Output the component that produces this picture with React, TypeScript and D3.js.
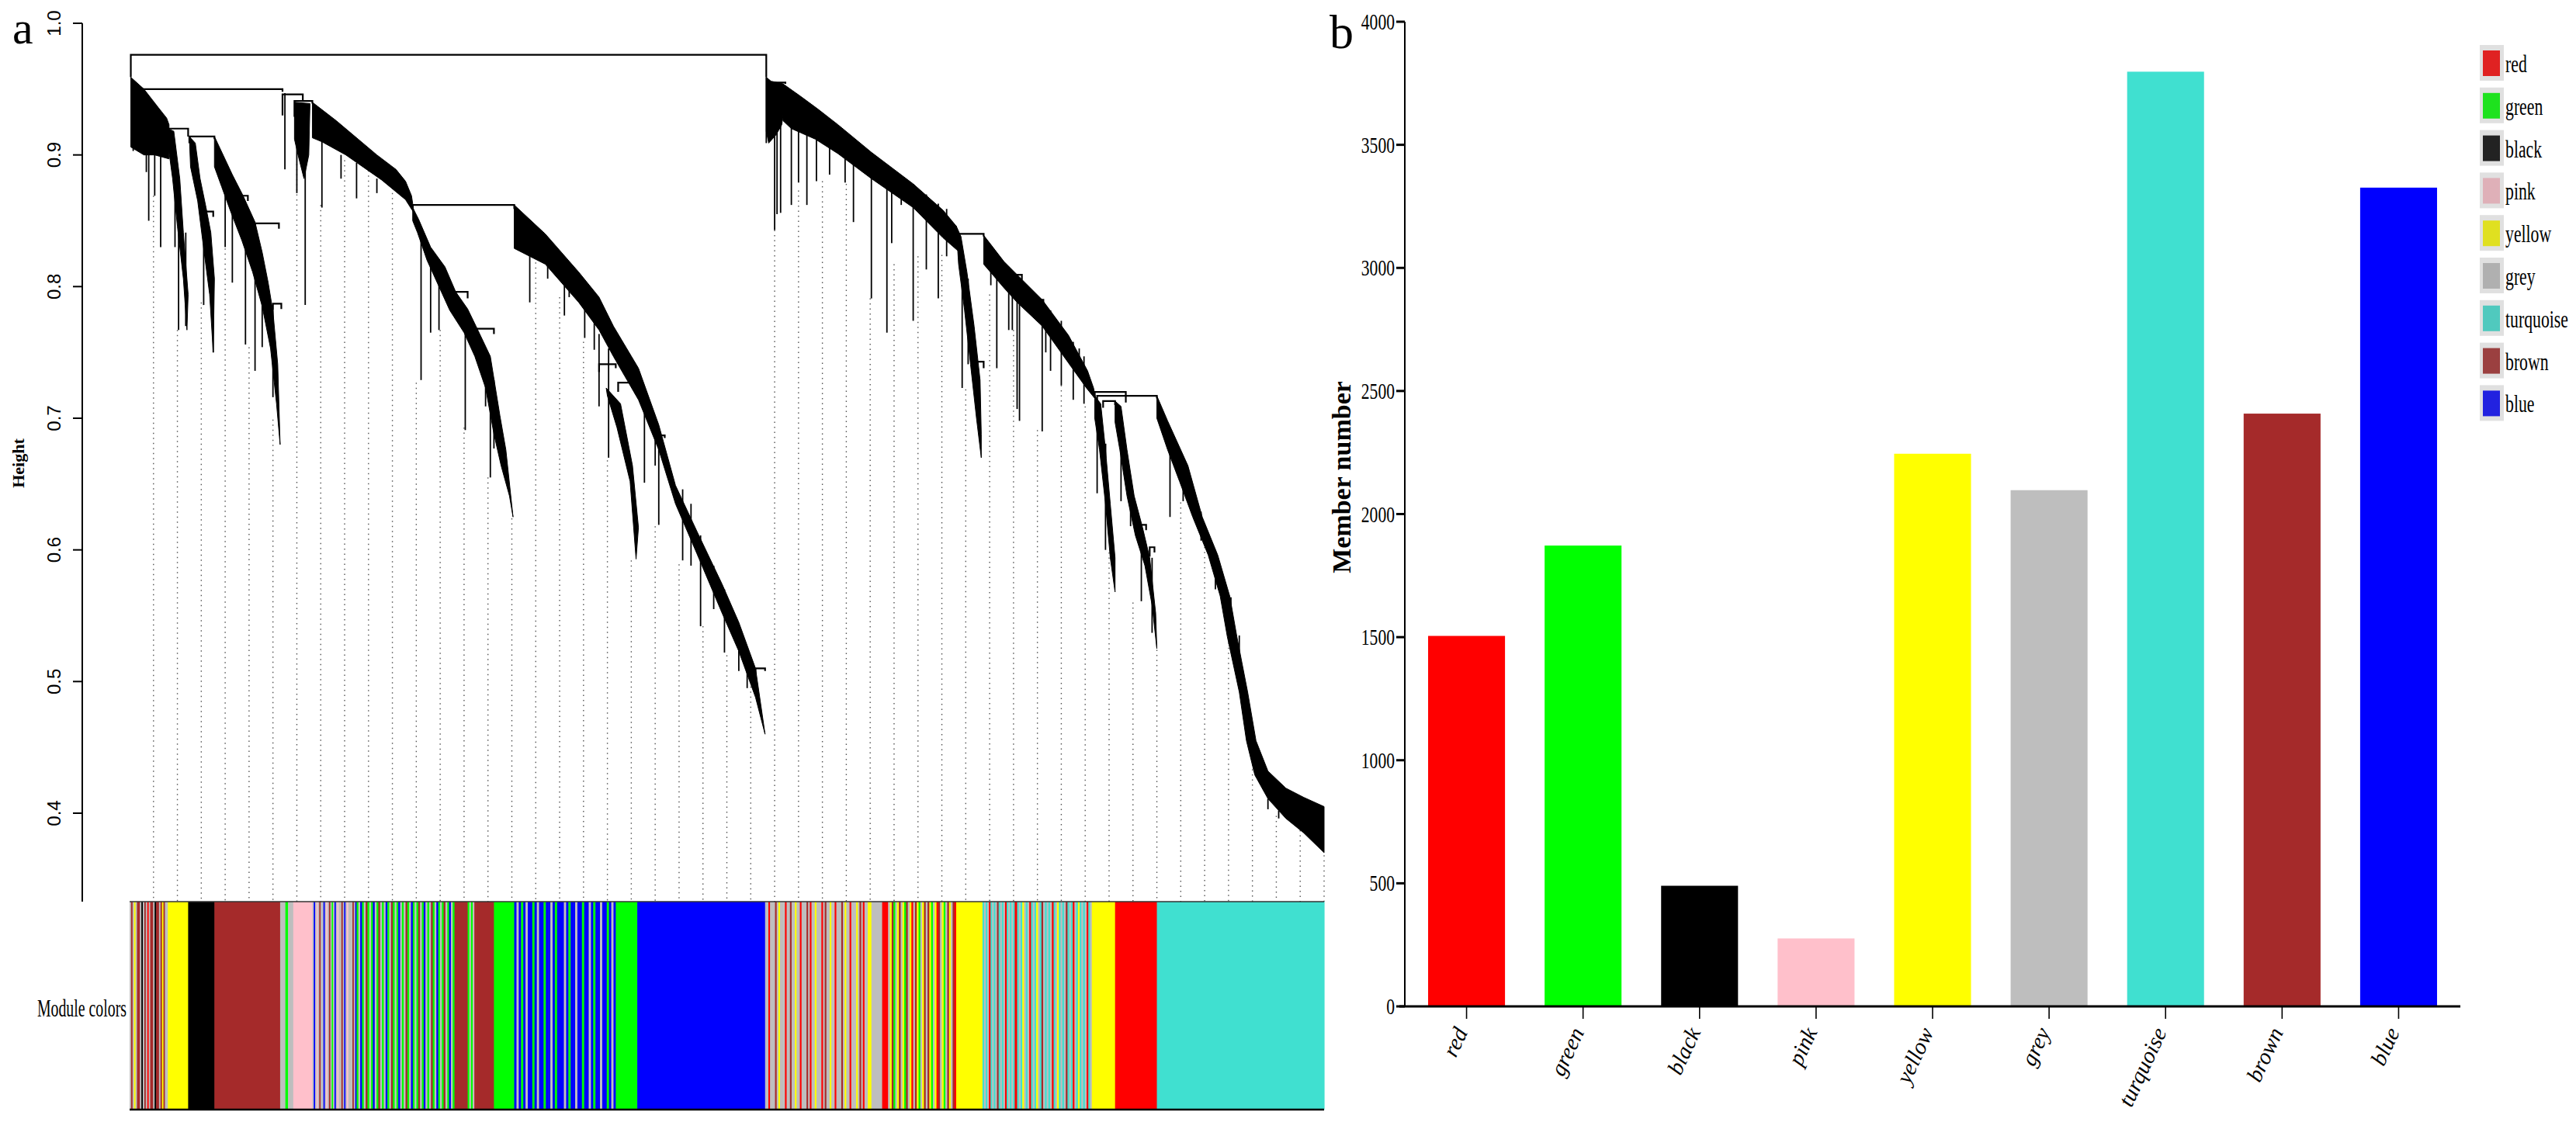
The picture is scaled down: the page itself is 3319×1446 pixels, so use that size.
import React from "react";
import * as d3 from "d3";

const W = 3319;
const H = 1446;

// ---- panel b: module sizes ----
const MODULES = ["red", "green", "black", "pink", "yellow", "grey", "turquoise", "brown", "blue"];
const MEMBERS = [1505, 1872, 490, 276, 2245, 2097, 3797, 2408, 3326];
const BAR_COLORS = ["#FF0000", "#00FF00", "#000000", "#FFC0CB", "#FFFF00", "#BEBEBE", "#40E0D0", "#A52A2A", "#0000FF"];
const LEGEND_COLORS = ["#E02222", "#1EE21E", "#222222", "#DFB0B8", "#E0E020", "#B0B0B0", "#50C9BE", "#9B4040", "#2222E0"];
const MEMBER_TICKS = [0, 500, 1000, 1500, 2000, 2500, 3000, 3500, 4000];

// ---- panel a: gene dendrogram (x = leaf order, % of genes; y = height) ----
const HEIGHT_TICKS = [0.4, 0.5, 0.6, 0.7, 0.8, 0.9, 1.0];

// [left x, right x, merge height, left child top, right child top]
const MERGES = [
  [0.1, 53.3, 0.976, 0.959, 0.959],
  [0.8, 12.8, 0.95, 0.947, 0.948],
  [3.2, 4.9, 0.92, 0.918, 0.914],
  [5.0, 7.1, 0.914, 0.909, 0.912],
  [9.0, 9.9, 0.869, 0.862, 0.865],
  [10.5, 12.5, 0.848, 0.841, 0.844],
  [12.0, 12.7, 0.787, 0.782, 0.783],
  [6.1, 7.0, 0.857, 0.85, 0.853],
  [12.8, 14.5, 0.946, 0.93, 0.941],
  [13.8, 15.3, 0.941, 0.929, 0.939],
  [23.7, 32.2, 0.862, 0.86, 0.859],
  [27.3, 28.3, 0.796, 0.788, 0.791],
  [29.1, 30.5, 0.768, 0.761, 0.764],
  [39.3, 40.7, 0.741, 0.735, 0.738],
  [40.9, 42.6, 0.727, 0.72, 0.723],
  [44.3, 44.8, 0.687, 0.682, 0.685],
  [52.4, 53.2, 0.51, 0.505, 0.508],
  [53.6, 54.9, 0.955, 0.95, 0.954],
  [69.4, 71.5, 0.84, 0.835, 0.838],
  [70.9, 71.5, 0.743, 0.735, 0.738],
  [74.2, 74.7, 0.809, 0.8, 0.805],
  [76.1, 76.5, 0.79, 0.782, 0.786],
  [80.8, 83.4, 0.72, 0.716, 0.712],
  [81.0, 86.0, 0.717, 0.713, 0.715],
  [81.5, 82.5, 0.713, 0.708, 0.71],
  [81.5, 81.7, 0.68, 0.66, 0.67],
  [84.7, 85.1, 0.619, 0.612, 0.615],
  [85.4, 85.8, 0.602, 0.595, 0.598],
];

// dense branch bundles, outlined as polygons
const RIBBONS: [number, number][][] = [
  [[0.1, 0.959], [1.2, 0.95], [2.4, 0.936], [3.1, 0.928], [3.3, 0.923], [3.3, 0.897], [2.1, 0.9], [1.2, 0.9], [0.1, 0.906]],
  [[3.2, 0.92], [3.7, 0.918], [4.2, 0.882], [4.5, 0.841], [4.9, 0.794], [4.8, 0.767], [4.5, 0.806], [4.0, 0.846], [3.6, 0.882], [3.2, 0.909]],
  [[5.0, 0.914], [5.5, 0.909], [5.9, 0.882], [6.4, 0.86], [6.8, 0.841], [7.1, 0.806], [7.0, 0.75], [6.7, 0.794], [6.2, 0.829], [5.7, 0.865], [5.1, 0.891]],
  [[7.1, 0.914], [8.6, 0.885], [9.5, 0.869], [10.5, 0.849], [11.1, 0.826], [11.6, 0.803], [12.0, 0.781], [12.4, 0.741], [12.6, 0.68], [12.3, 0.711], [11.8, 0.753], [11.1, 0.785], [10.3, 0.811], [9.4, 0.835], [8.5, 0.856], [7.7, 0.876], [7.1, 0.891]],
  [[13.8, 0.94], [15.1, 0.939], [15.0, 0.9], [14.6, 0.882], [14.1, 0.9], [13.8, 0.912]],
  [[15.3, 0.94], [17.3, 0.926], [20.7, 0.9], [22.3, 0.889], [23.1, 0.88], [23.6, 0.869], [23.7, 0.863], [23.8, 0.856], [23.1, 0.866], [21.1, 0.881], [18.1, 0.9], [16.1, 0.91], [15.3, 0.913]],
  [[23.7, 0.86], [24.2, 0.851], [25.2, 0.83], [26.4, 0.815], [27.3, 0.796], [28.3, 0.783], [29.1, 0.768], [30.2, 0.747], [31.0, 0.702], [31.5, 0.676], [32.1, 0.625], [31.8, 0.641], [31.1, 0.664], [30.5, 0.688], [29.8, 0.723], [28.9, 0.747], [28.0, 0.765], [26.8, 0.782], [25.9, 0.8], [24.9, 0.82], [24.1, 0.841], [23.7, 0.85]],
  [[32.2, 0.862], [34.8, 0.84], [37.6, 0.811], [39.3, 0.792], [40.5, 0.77], [42.6, 0.738], [44.3, 0.695], [45.7, 0.649], [47.5, 0.614], [49.6, 0.574], [51.0, 0.545], [52.4, 0.51], [53.2, 0.46], [52.4, 0.488], [51.0, 0.523], [49.6, 0.552], [47.5, 0.597], [45.7, 0.635], [44.3, 0.676], [42.6, 0.714], [40.5, 0.747], [39.3, 0.767], [37.6, 0.788], [34.8, 0.817], [32.2, 0.829]],
  [[39.9, 0.723], [41.1, 0.711], [42.1, 0.664], [42.6, 0.617], [42.4, 0.593], [41.9, 0.652], [40.8, 0.693], [40.0, 0.717]],
  [[53.3, 0.959], [53.7, 0.956], [54.7, 0.954], [54.9, 0.944], [54.6, 0.923], [54.1, 0.915], [53.5, 0.909], [53.3, 0.918]],
  [[54.7, 0.954], [56.1, 0.945], [57.6, 0.935], [59.3, 0.923], [62.1, 0.902], [65.6, 0.878], [68.1, 0.858], [69.2, 0.846], [69.4, 0.84], [69.5, 0.826], [68.1, 0.837], [65.6, 0.86], [62.1, 0.882], [59.3, 0.901], [57.4, 0.912], [55.4, 0.92], [54.7, 0.926]],
  [[69.2, 0.846], [69.6, 0.838], [70.1, 0.811], [70.7, 0.77], [71.2, 0.729], [71.3, 0.688], [71.3, 0.67], [70.9, 0.7], [70.4, 0.741], [69.9, 0.782], [69.4, 0.817]],
  [[71.5, 0.839], [73.2, 0.819], [74.3, 0.809], [76.4, 0.79], [78.6, 0.763], [80.2, 0.736], [80.7, 0.723], [80.9, 0.714], [80.1, 0.723], [78.6, 0.742], [76.4, 0.77], [74.3, 0.788], [73.2, 0.799], [71.5, 0.817]],
  [[80.8, 0.717], [81.3, 0.711], [81.7, 0.676], [82.1, 0.635], [82.5, 0.594], [82.5, 0.568], [82.1, 0.594], [81.7, 0.635], [81.2, 0.676], [80.8, 0.7]],
  [[82.5, 0.713], [83.0, 0.709], [83.5, 0.676], [84.1, 0.641], [84.8, 0.617], [85.4, 0.594], [85.9, 0.552], [86.0, 0.525], [85.6, 0.558], [85.0, 0.588], [84.2, 0.611], [83.5, 0.641], [82.9, 0.676], [82.5, 0.697]],
  [[86.0, 0.717], [86.9, 0.698], [88.6, 0.664], [89.8, 0.625], [91.1, 0.596], [92.1, 0.565], [92.7, 0.534], [93.6, 0.492], [94.3, 0.455], [95.3, 0.432], [96.8, 0.419], [98.3, 0.412], [100, 0.405], [100, 0.37], [98.3, 0.385], [96.8, 0.396], [95.3, 0.411], [94.2, 0.429], [93.5, 0.455], [92.9, 0.492], [91.9, 0.534], [91.3, 0.565], [90.3, 0.596], [89.0, 0.625], [87.9, 0.652], [86.9, 0.676], [86.0, 0.7]],
];

// single long branches hanging below the bundles: [x, top, bottom]
const SPIKES = [
  [0.3, 0.929, 0.903], [1.6, 0.912, 0.85], [2.1, 0.909, 0.869], [2.6, 0.906, 0.83], [1.4, 0.912, 0.887],
  [3.8, 0.9, 0.83], [4.1, 0.876, 0.767], [4.7, 0.841, 0.77], [6.2, 0.841, 0.786], [7.0, 0.794, 0.75],
  [8.0, 0.876, 0.83], [8.6, 0.865, 0.803], [9.7, 0.846, 0.756], [10.5, 0.835, 0.736], [11.1, 0.817, 0.754],
  [12.0, 0.782, 0.716], [13.0, 0.947, 0.889], [14.7, 0.938, 0.786], [14.0, 0.938, 0.871], [16.1, 0.912, 0.86],
  [17.7, 0.9, 0.882], [19.0, 0.894, 0.867], [20.7, 0.882, 0.871], [24.4, 0.841, 0.729], [25.2, 0.823, 0.765],
  [25.9, 0.811, 0.767], [28.1, 0.782, 0.691], [29.8, 0.753, 0.709], [30.5, 0.729, 0.677], [30.2, 0.741, 0.655],
  [33.5, 0.846, 0.788], [35.0, 0.829, 0.806], [36.4, 0.815, 0.778], [36.8, 0.811, 0.792], [38.1, 0.794, 0.761],
  [38.9, 0.782, 0.752], [39.3, 0.764, 0.709], [40.1, 0.753, 0.67], [43.1, 0.723, 0.651], [44.0, 0.7, 0.664],
  [44.3, 0.688, 0.619], [46.3, 0.646, 0.592], [47.0, 0.635, 0.588], [47.8, 0.611, 0.542], [48.9, 0.588, 0.555],
  [49.8, 0.57, 0.522], [51.0, 0.541, 0.508], [51.7, 0.517, 0.495],
  [53.3, 0.959, 0.909], [54.0, 0.947, 0.843], [54.2, 0.947, 0.855], [54.5, 0.947, 0.856], [55.4, 0.941, 0.862],
  [56.0, 0.935, 0.879], [56.7, 0.929, 0.862], [57.5, 0.923, 0.88], [58.6, 0.918, 0.885], [59.9, 0.909, 0.879],
  [60.6, 0.903, 0.849], [62.1, 0.9, 0.791], [63.4, 0.891, 0.765], [63.8, 0.888, 0.833], [64.6, 0.882, 0.862],
  [65.6, 0.878, 0.774], [66.7, 0.87, 0.813], [67.7, 0.863, 0.791], [68.4, 0.859, 0.823], [69.7, 0.823, 0.723],
  [70.2, 0.806, 0.741], [72.1, 0.829, 0.801], [72.6, 0.823, 0.738], [73.6, 0.815, 0.767], [73.9, 0.811, 0.767],
  [74.3, 0.806, 0.707], [74.5, 0.806, 0.698], [76.4, 0.788, 0.69], [76.7, 0.785, 0.75], [77.1, 0.782, 0.736],
  [78.0, 0.774, 0.725], [79.0, 0.758, 0.714], [79.5, 0.753, 0.733], [79.9, 0.747, 0.711], [81.0, 0.694, 0.643],
  [81.7, 0.664, 0.6], [83.0, 0.688, 0.637], [83.8, 0.652, 0.618], [84.7, 0.617, 0.561], [85.6, 0.594, 0.537],
  [87.1, 0.688, 0.625], [88.2, 0.664, 0.637], [89.7, 0.629, 0.607], [90.9, 0.6, 0.57], [92.2, 0.564, 0.541],
  [92.9, 0.535, 0.516], [95.3, 0.411, 0.403], [96.2, 0.402, 0.396],
];

// height where each of the 50 guide lines starts (guides every 2% of leaves)
const GUIDE_TOPS = [
  0.869, 0.767, 0.788, 0.829, 0.754, 0.699, 0.893, 0.862, 0.896, 0.892,
  0.871, 0.727, 0.767, 0.693, 0.655, 0.624, 0.826, 0.792, 0.758, 0.668,
  0.592, 0.618, 0.589, 0.542, 0.52, 0.5, 0.843, 0.873, 0.88, 0.878,
  0.791, 0.817, 0.823, 0.824, 0.722, 0.794, 0.767, 0.691, 0.725, 0.709,
  0.598, 0.56, 0.524, 0.636, 0.606, 0.541, 0.464, 0.398, 0.387, 0.368,
];

const BAND_CODES: Record<string, string> = {
  g: "#BEBEBE", b: "#A52A2A", y: "#FFFF00", k: "#000000", p: "#FFC0CB",
  G: "#00FF00", B: "#0000FF", r: "#FF0000", t: "#40E0D0",
};

// [from %, to %, stripe sequence]
const BAND_SEGMENTS: [number, number, string][] = [
  [0, 3.2, "gbgygbbgkgbgrgbbgkbbgbybgg"],
  [3.2, 4.9, "y"],
  [4.9, 7.1, "k"],
  [7.1, 12.6, "b"],
  [12.6, 13.7, "ggGgg"],
  [13.7, 15.3, "p"],
  [15.3, 19.0, "gBgpgbggBgpgbgGgBgpggbgBgpgggbgB"],
  [19.0, 27.2, "GgBGgbGgGBgGbgGgBGgbGgGBgGgbGgBGgGbgGBgGgbGgBGgGbgGBgG"],
  [27.2, 28.3, "b"],
  [28.3, 29.0, "GgGgb"],
  [29.0, 30.5, "b"],
  [30.5, 32.2, "G"],
  [32.2, 40.7, "BgBGBgBBGBgBBGBBgBGBBBgBGBBgBBGBBgBGBBgBBGBgB"],
  [40.7, 42.5, "G"],
  [42.5, 53.2, "B"],
  [53.2, 61.8, "ggrgggbgygggrggbggyggrgggbgrggygggrgbggyggrgggbgyggrgggygbgrgg"],
  [61.8, 62.1, "y"],
  [62.1, 63.0, "g"],
  [63.0, 63.5, "r"],
  [63.5, 69.2, "gybGgybgyGbgyrgbyGgybgbyGgyrbgyGgbygbr"],
  [69.2, 71.4, "y"],
  [71.4, 74.1, "tgtgrtgtgbtgtgrtgtgt"],
  [74.1, 74.3, "r"],
  [74.3, 80.7, "tgtygtgrtgtygtbgtgtgrtgytgtgbtgtrgtytgtgrtgy"],
  [80.7, 82.5, "y"],
  [82.5, 86.0, "r"],
  [86.0, 100, "t"],
];

const SERIF = "'Liberation Serif', 'DejaVu Serif', serif";
const SANS = "'Liberation Sans', Arial, sans-serif";

export default function App() {
  // panel a scales
  const xA = d3.scaleLinear().domain([0, 100]).range([167, 1706]);
  const yA = d3.scaleLinear().domain([0.4, 1.0]).range([1048, 30]);
  const bandTop = 1162;
  const bandBottom = 1430;

  // panel b scales
  const xB = d3.scaleBand<string>().domain(MODULES).range([1810, 3170]).paddingInner(0.34).paddingOuter(0.2);
  const yB = d3.scaleLinear().domain([0, 4000]).range([1297, 28]);

  const ribbonPath = d3
    .line<[number, number]>()
    .x((d) => xA(d[0]))
    .y((d) => yA(d[1]));

  const stripes: { x: number; w: number; c: string }[] = [];
  BAND_SEGMENTS.forEach(([a, b, seq]) => {
    const step = (b - a) / seq.length;
    seq.split("").forEach((code, i) => {
      const x0 = xA(a + i * step);
      const x1 = xA(a + (i + 1) * step);
      stripes.push({ x: x0, w: x1 - x0 + 0.6, c: BAND_CODES[code] });
    });
  });

  return (
    <>
      <style>{`body{margin:0;background:#fff}`}</style>
      <svg width={W} height={H} style={{ display: "block", background: "#fff" }}>
        {/* ---------- panel a ---------- */}
        <text x={16} y={56} fontFamily={SERIF} fontSize={60}>a</text>

        {/* guide lines */}
        {GUIDE_TOPS.map((t, i) => (
          <line
            key={`guide-${i}`}
            x1={xA((i + 1) * 2)}
            x2={xA((i + 1) * 2)}
            y1={yA(t)}
            y2={bandTop}
            stroke="#555"
            strokeWidth={1.4}
            strokeDasharray="1.5 5"
          />
        ))}

        {/* dendrogram */}
        {RIBBONS.map((r, i) => (
          <path key={`rib-${i}`} d={ribbonPath(r) + "Z"} fill="#000" stroke="#000" strokeWidth={1} strokeLinejoin="round" />
        ))}
        {SPIKES.map(([x, t, b], i) => (
          <line key={`sp-${i}`} x1={xA(x)} x2={xA(x)} y1={yA(t)} y2={yA(b)} stroke="#000" strokeWidth={1.8} />
        ))}
        {MERGES.map(([xl, xr, h, hl, hr], i) => (
          <path
            key={`m-${i}`}
            d={`M${xA(xl)},${yA(hl)}V${yA(h)}H${xA(xr)}V${yA(hr)}`}
            fill="none"
            stroke="#000"
            strokeWidth={2.2}
          />
        ))}

        {/* y axis */}
        <line x1={106} x2={106} y1={yA(1.0)} y2={bandTop} stroke="#000" strokeWidth={2} />
        {HEIGHT_TICKS.map((t) => (
          <g key={`ha-${t}`}>
            <line x1={94} x2={106} y1={yA(t)} y2={yA(t)} stroke="#000" strokeWidth={2} />
            <text
              transform={`translate(78,${yA(t)}) rotate(-90)`}
              textAnchor="middle"
              fontFamily={SANS}
              fontSize={24}
            >
              {t.toFixed(1)}
            </text>
          </g>
        ))}
        <text
          transform="translate(31,597) rotate(-90)"
          textAnchor="middle"
          fontFamily={SERIF}
          fontWeight="bold"
          fontSize={22}
        >
          Height
        </text>

        {/* module colour band */}
        {stripes.map((s, i) => (
          <rect key={`st-${i}`} x={s.x} y={bandTop} width={s.w} height={bandBottom - bandTop} fill={s.c} />
        ))}
        <line x1={xA(0)} x2={xA(100)} y1={bandTop} y2={bandTop} stroke="#333" strokeWidth={1.5} />
        <line x1={xA(0)} x2={xA(100)} y1={bandBottom} y2={bandBottom} stroke="#000" strokeWidth={2.5} />
        <text
          transform="translate(163,1310) scale(0.62,1)"
          textAnchor="end"
          fontFamily={SERIF}
          fontSize={32}
        >
          Module colors
        </text>

        {/* ---------- panel b ---------- */}
        <text x={1713} y={62} fontFamily={SERIF} fontSize={62}>b</text>

        {MODULES.map((m, i) => (
          <rect
            key={`bar-${m}`}
            x={xB(m)}
            y={yB(MEMBERS[i])}
            width={xB.bandwidth()}
            height={yB(0) - yB(MEMBERS[i])}
            fill={BAR_COLORS[i]}
          />
        ))}

        {/* y axis */}
        <line x1={1810} x2={1810} y1={yB(4000)} y2={yB(0)} stroke="#000" strokeWidth={2} />
        {MEMBER_TICKS.map((v) => (
          <g key={`mt-${v}`}>
            <line x1={1799} x2={1810} y1={yB(v)} y2={yB(v)} stroke="#000" strokeWidth={3} />
            <text
              transform={`translate(1797,${yB(v) + 10}) scale(0.72,1)`}
              textAnchor="end"
              fontFamily={SERIF}
              fontSize={30}
            >
              {v}
            </text>
          </g>
        ))}
        <text
          transform="translate(1740,615) rotate(-90)"
          textAnchor="middle"
          fontFamily={SERIF}
          fontWeight="bold"
          fontSize={34}
        >
          Member number
        </text>

        {/* x axis */}
        <line x1={1803} x2={3170} y1={yB(0)} y2={yB(0)} stroke="#000" strokeWidth={3} />
        {MODULES.map((m) => {
          const cx = (xB(m) ?? 0) + xB.bandwidth() / 2;
          return (
            <g key={`xl-${m}`}>
              <line x1={cx} x2={cx} y1={yB(0)} y2={yB(0) + 16} stroke="#000" strokeWidth={1.6} />
              <text
                transform={`translate(${cx + 2},1330) rotate(-65)`}
                textAnchor="end"
                fontFamily={SERIF}
                fontStyle="italic"
                fontSize={29}
              >
                {m}
              </text>
            </g>
          );
        })}

        {/* legend */}
        {MODULES.map((m, i) => {
          const top = 58 + i * 54.8;
          return (
            <g key={`lg-${m}`}>
              <rect x={3195} y={top} width={31} height={46} fill="#E0E0E0" />
              <rect x={3199} y={top + 7} width={22} height={33} fill={LEGEND_COLORS[i]} />
              <text
                transform={`translate(3228,${top + 35}) scale(0.68,1)`}
                fontFamily={SERIF}
                fontSize={32}
              >
                {m}
              </text>
            </g>
          );
        })}
      </svg>
    </>
  );
}
